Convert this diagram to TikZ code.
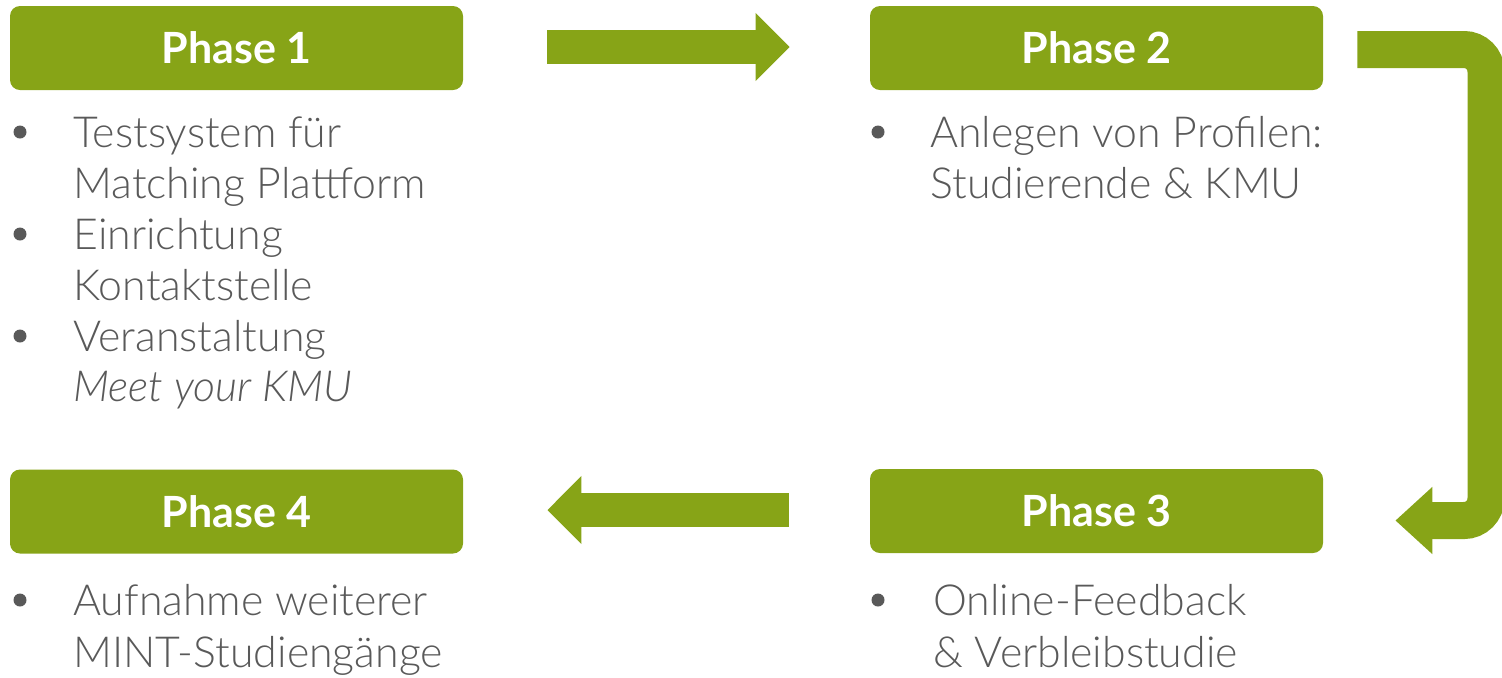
\documentclass[tikz,border=0pt]{standalone}
\usepackage{fontspec}
\setmainfont{Lato}
\newfontfamily\bodyfont{Lato Light}
\newfontfamily\headfont{Lato}
\usetikzlibrary{arrows.meta,calc}
\definecolor{green}{RGB}{135,164,23}
\definecolor{txtgray}{RGB}{89,89,89}
\tikzset{
  phasebox/.style={fill=green, rounded corners=5pt, minimum width=226.5pt, minimum height=42pt,
    inner sep=0pt, text=white, font=\headfont\bfseries\fontsize{21.5}{24}\selectfont},
  line/.style={anchor=base west, inner sep=0pt, text=txtgray, font=\bodyfont\fontsize{21.4}{25}\selectfont},
  bullet/.style={circle, fill=txtgray, minimum size=6.5pt, inner sep=0pt},
  blockarrow/.style={draw=green, line width=17pt, -{Triangle[length=17pt,width=33pt]}},
  uarrow/.style={draw=green, line width=18.5pt, rounded corners=11pt, -{Triangle[length=18.5pt,width=32.5pt]}}
}
\begin{document}
\begin{tikzpicture}[x=0.5pt,y=-0.5pt]
\useasboundingbox (0,0) rectangle (1502,677);
% phase boxes
\node[phasebox] (p1) at (236.5,48) {Phase 1};
\node[phasebox] (p2) at (1096.5,48) {Phase 2};
\node[phasebox] (p3) at (1096.5,511) {Phase 3};
\node[phasebox] (p4) at (236.5,511.5) {Phase 4};
% arrows
\draw[blockarrow] ($(p1.east)+(84,-1)$) -- ($(p2.west)+(-80,-1)$);
\draw[blockarrow] ($(p3.west)+(-81,-1)$) -- ($(p4.east)+(84,-1.5)$);
\coordinate (u1) at (1486,49.5);
\draw[uarrow] ($(p2.east)+(34,1.5)$) -- (u1) |- ($(p3.east)+(72,9.5)$);
% phase 1 text
\node[bullet] (b11) at (20,132) {};
\node[line] (t11) at (73,147) {Testsystem für};
\node[line] (t12) at (73,198) {Matching Plattform};
\node[bullet] (b12) at (20,234) {};
\node[line] (t13) at (73,249) {Einrichtung};
\node[line] (t14) at (73,300) {Kontaktstelle};
\node[bullet] (b13) at (20,336) {};
\node[line] (t15) at (73,351) {Veranstaltung};
\node[line] (t16) at (73,401) {\itshape Meet your KMU};
% phase 2 text
\node[bullet] (b21) at (878,132) {};
\node[line] (t21) at (930,147) {Anlegen von Profilen:};
\node[line] (t22) at (930,198) {Studierende \& KMU};
% phase 3 text
\node[bullet] (b31) at (878,600) {};
\node[line] (t31) at (933,615) {Online-Feedback};
\node[line] (t32) at (933,667) {\& Verbleibstudie};
% phase 4 text
\node[bullet] (b41) at (20,600) {};
\node[line] (t41) at (73,615) {Aufnahme weiterer};
\node[line] (t42) at (73,667) {MINT-Studiengänge};
\end{tikzpicture}
\end{document}
